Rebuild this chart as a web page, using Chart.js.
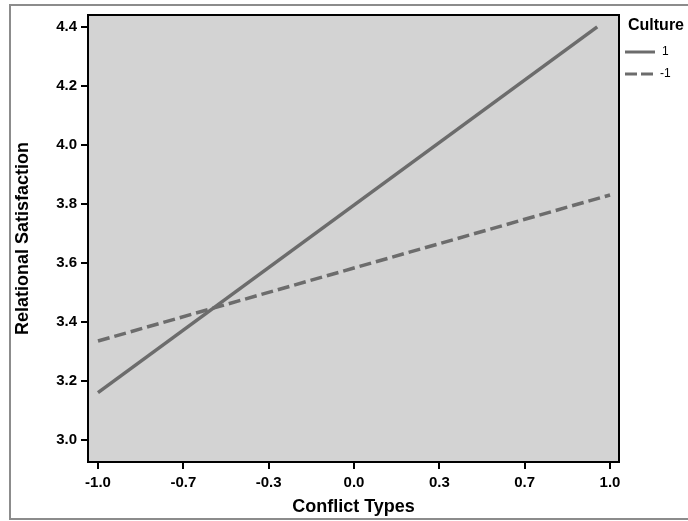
<!DOCTYPE html>
<html>
<head>
<meta charset="utf-8">
<script src="https://cdn.jsdelivr.net/npm/chart.js@4.4.0/dist/chart.umd.min.js"></script>
<style>
	html, body { margin: 0; padding: 0; background: #fff; }
	#contenedor { width: 688px; height: 521px; }
</style>
</head>
<body>
<div id="contenedor"><canvas id="grafico" width="688" height="521"></canvas></div>
<script>
// valores
var cultureLabels = ['1', '-1'];
var xCulture1 = [-1.0, 0.95];
var yCulture1 = [3.16, 4.40];
var xCultureNeg = [-1.0, 1.0];
var yCultureNeg = [3.335, 3.83];

var xTicks = [-1, -2 / 3, -1 / 3, 0, 1 / 3, 2 / 3, 1];
var xTickLabels = ['-1.0', '-0.7', '-0.3', '0.0', '0.3', '0.7', '1.0'];
var yTicks = [3.0, 3.2, 3.4, 3.6, 3.8, 4.0, 4.2, 4.4];
var yTickLabels = ['3.0', '3.2', '3.4', '3.6', '3.8', '4.0', '4.2', '4.4'];

var lineColor = '#6c6c6c';
var tickFont = { family: "'Liberation Sans', Arial, sans-serif", size: 15, weight: 'bold' };
var titleFont = { family: "'Liberation Sans', Arial, sans-serif", size: 18, weight: 'bold' };

function puntos(xs, ys) {
	return xs.map(function (x, i) { return { x: x, y: ys[i] }; });
}

// fondo, marco exterior y caja del area de trazado
var fondo = {
	id: 'fondo',
	beforeDraw: function (chart) {
		var ctx = chart.ctx, a = chart.chartArea;
		ctx.save();
		ctx.fillStyle = '#fff';
		ctx.fillRect(0, 0, chart.width, chart.height);
		ctx.strokeStyle = '#8c8c8c';
		ctx.lineWidth = 2;
		ctx.strokeRect(10, 5, chart.width + 10, 514);
		ctx.fillStyle = '#d3d3d3';
		ctx.fillRect(a.left, a.top, a.right - a.left, a.bottom - a.top);
		ctx.restore();
	},
	afterDraw: function (chart) {
		var ctx = chart.ctx, a = chart.chartArea;
		ctx.save();
		ctx.strokeStyle = '#000';
		ctx.lineWidth = 2;
		ctx.strokeRect(a.left, a.top, a.right - a.left, a.bottom - a.top);
		ctx.restore();
	}
};

// leyenda a la derecha, como en el original
var leyenda = {
	id: 'leyenda',
	afterDraw: function (chart) {
		var ctx = chart.ctx;
		var x0 = chart.chartArea.right + 6;
		ctx.save();
		ctx.fillStyle = '#000';
		ctx.textBaseline = 'middle';
		ctx.font = "bold 16px 'Liberation Sans', Arial, sans-serif";
		ctx.fillText('Culture', x0 + 3, 26);
		chart.data.datasets.forEach(function (ds, i) {
			var y = 52 + i * 22;
			ctx.strokeStyle = ds.borderColor;
			ctx.lineWidth = 3;
			ctx.setLineDash(ds.borderDash ? [12, 4] : []);
			ctx.beginPath();
			ctx.moveTo(x0, y);
			ctx.lineTo(x0 + 30, y);
			ctx.stroke();
			ctx.setLineDash([]);
			ctx.font = "12px 'Liberation Sans', Arial, sans-serif";
			ctx.fillText(ds.label, x0 + (ds.label.length > 1 ? 35 : 37), y);
		});
		ctx.restore();
	}
};

var grafico = new Chart(document.getElementById('grafico').getContext('2d'), {
	type: 'line',
	data: {
		datasets: [{
			label: cultureLabels[0],
			data: puntos(xCulture1, yCulture1),
			borderColor: lineColor,
			borderWidth: 3.5,
			pointRadius: 0,
			fill: false
		}, {
			label: cultureLabels[1],
			data: puntos(xCultureNeg, yCultureNeg),
			borderColor: lineColor,
			borderWidth: 3.5,
			borderDash: [12, 5],
			pointRadius: 0,
			fill: false
		}]
	},
	options: {
		responsive: false,
		animation: false,
		layout: { padding: { top: 15, right: 69, bottom: 0, left: 0 } },
		plugins: {
			legend: { display: false },
			tooltip: { enabled: false }
		},
		scales: {
			x: {
				type: 'linear',
				min: -1.039,
				max: 1.035,
				afterBuildTicks: function (s) {
					s.ticks = xTicks.map(function (v) { return { value: v }; });
				},
				afterFit: function (s) { s.height = 59; },
				ticks: {
					autoSkip: false,
					maxRotation: 0,
					color: '#000',
					font: tickFont,
					padding: 5,
					callback: function (v, i) { return xTickLabels[i]; }
				},
				grid: { drawOnChartArea: false, drawTicks: true, tickLength: 7, color: '#000', lineWidth: 2 },
				border: { display: false },
				title: { display: true, text: 'Conflict Types', color: '#000', font: titleFont, padding: { top: 0, bottom: 3 } }
			},
			y: {
				type: 'linear',
				min: 2.925,
				max: 4.44,
				afterBuildTicks: function (s) {
					s.ticks = yTicks.map(function (v) { return { value: v }; });
				},
				afterFit: function (s) { s.width = 88; },
				ticks: {
					autoSkip: false,
					color: '#000',
					font: tickFont,
					padding: 4,
					callback: function (v, i) { return yTickLabels[i]; }
				},
				grid: { drawOnChartArea: false, drawTicks: true, tickLength: 7, color: '#000', lineWidth: 2 },
				border: { display: false },
				title: { display: true, text: 'Relational Satisfaction', color: '#000', font: titleFont, padding: { top: 12, bottom: 0 } }
			}
		}
	},
	plugins: [fondo, leyenda]
});
</script>
</body>
</html>
